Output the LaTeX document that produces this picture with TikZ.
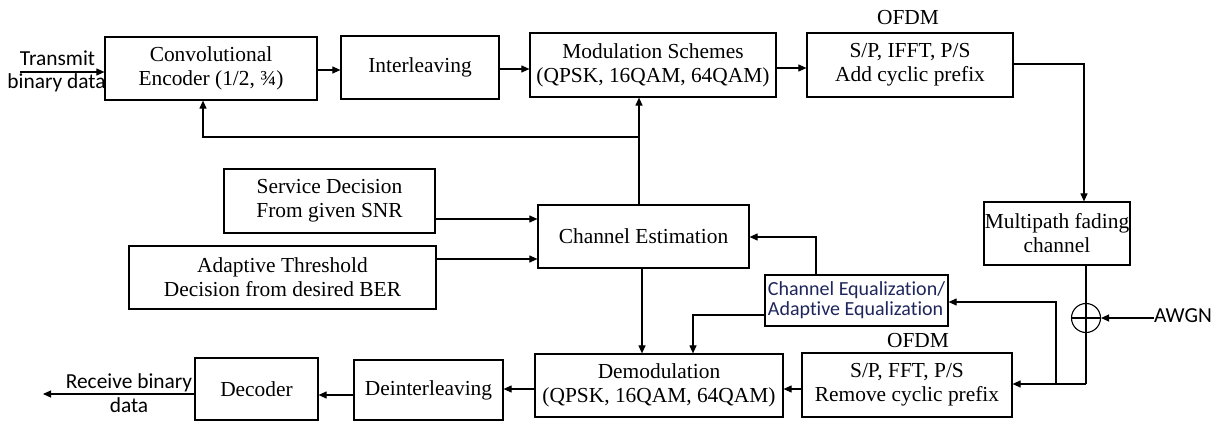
\documentclass[tikz,border=0pt]{standalone}
\usepackage{fontspec}
\setmainfont{Liberation Serif}
\newfontfamily\labsans[Ligatures=NoCommon]{Carlito}
\usetikzlibrary{arrows.meta}
\definecolor{eqnavy}{RGB}{30,38,92}
\tikzset{
  blk/.style={draw, line width=1.2pt, inner sep=0pt, align=center,
    font=\fontsize{21.4}{24}\selectfont},
  arr/.style={line width=1.1pt, -{Triangle[length=8pt,width=7pt]}},
  ln/.style={line width=1.1pt},
  lbl/.style={font=\labsans\fontsize{21.4}{24}\selectfont, inner sep=0pt, anchor=base},
  ofdmlbl/.style={font=\fontsize{21.4}{24}\selectfont, inner sep=0pt, anchor=base}
}
\begin{document}
\begin{tikzpicture}[x=1pt,y=-1pt]
\useasboundingbox[fill=white] (0,0) rectangle (1223,423);

% transmitter chain
\node[blk, minimum width=212, minimum height=63] (conv) at (211,68.5) {Convolutional\\Encoder (1/2, ¾)};
\node[blk, minimum width=158, minimum height=63] (inter) at (420,67.5) {Interleaving};
\node[blk, minimum width=246, minimum height=64] (mod) at (653,65) {Modulation Schemes\\(QPSK, 16QAM, 64QAM)};
\node[blk, minimum width=206, minimum height=64] (ofdmt) at (910,65) {S/P, IFFT, P/S\\Add cyclic prefix};
\node[ofdmlbl] (ofdmtl) at (908,24) {OFDM};

\node[blk, minimum width=146, minimum height=63] (multi) at (1057,233.5) {Multipath fading\\channel};
\node[draw, line width=1.1pt, circle, minimum size=29pt, inner sep=0pt] (sum) at (1086,318) {};
\node[lbl] (awgn) at (1183,322) {AWGN};

% receiver chain
\node[blk, minimum width=210, minimum height=64] (spfft) at (907,385) {S/P, FFT, P/S\\Remove cyclic prefix};
\node[ofdmlbl] (ofdmrl) at (918,347) {OFDM};
\node[blk, minimum width=183, minimum height=51, align=left,
      font=\labsans\fontsize{20}{20}\selectfont, text=eqnavy] (cheq) at (856.5,300.5) {Channel Equalization/\\Adaptive Equalization};
\node[blk, minimum width=211, minimum height=63] (ce) at (643.5,236.5) {Channel Estimation};
\node[blk, minimum width=211, minimum height=64] (serv) at (329.5,201) {Service Decision\\From given SNR};
\node[blk, minimum width=307, minimum height=63] (adapt) at (282.5,277.5) {Adaptive Threshold\\Decision from desired BER};
\node[blk, minimum width=248, minimum height=63] (demod) at (659,385.5) {Demodulation\\(QPSK, 16QAM, 64QAM)};
\node[blk, minimum width=149, minimum height=60] (deint) at (428.5,390) {Deinterleaving};
\node[blk, minimum width=123, minimum height=62] (dec) at (256.5,389) {Decoder};

% labels for input/output
\node[lbl] (tx1) at (57.5,65) {Transmit};
\node[lbl] (tx2) at (56.5,88) {binary data};
\node[lbl] (rx1) at (129,388) {Receive binary};
\node[lbl] (rx2) at (129,412) {data};

% coordinates
\coordinate (txin) at (20,72);
\coordinate (rxout) at (43,394);
\coordinate (fb) at (639,137);
\coordinate (fbl) at (203,137);
\coordinate (tr) at (1084,64);
\coordinate (rxc) at (1086,384);
\coordinate (jn) at (1056,384);
\coordinate (jnt) at (1056,302);
\coordinate (eqt) at (816,237);
\coordinate (eql) at (693,315);

% top chain
\draw[arr] (txin) -- (txin -| conv.west);
\draw[arr] (conv.east |- 0,70) -- (inter.west |- 0,70);
\draw[arr] (inter.east |- 0,69) -- (mod.west |- 0,69);
\draw[arr] (mod.east |- 0,68) -- (ofdmt.west |- 0,68);
\draw[arr] (ofdmt.east |- tr) -- (tr) -- (tr |- multi.north);

% channel & noise
\draw[ln] (sum.west) -- (sum.east);
\draw[ln] (multi.south -| sum) -- (rxc);
\draw[arr] (awgn.west |- sum) -- (sum.east);
\draw[arr] (rxc) -- (rxc -| spfft.east);
\draw[arr] (jn) -- (jnt) -- (jnt -| cheq.east);

% feedback from channel estimation
\draw[arr] (fb |- ce.north) -- (fb |- mod.south);
\draw[arr] (fb) -- (fbl) -- (fbl |- conv.south);
\draw[arr] (serv.east |- 0,219) -- (ce.west |- 0,219);
\draw[arr] (adapt.east |- 0,259) -- (ce.west |- 0,259);
\draw[arr] (eqt |- cheq.north) -- (eqt) -- (eqt -| ce.east);
\draw[arr] (eql -| cheq.west) -- (eql) -- (eql |- demod.north);
\draw[arr] (ce.south -| 642,0) -- (demod.north -| 642,0);

% bottom chain
\draw[arr] (spfft.west |- 0,389) -- (demod.east |- 0,389);
\draw[arr] (demod.west |- 0,389) -- (deint.east |- 0,389);
\draw[arr] (deint.west |- 0,395) -- (dec.east |- 0,395);
\draw[arr] (dec.west |- rxout) -- (rxout);
\end{tikzpicture}
\end{document}
